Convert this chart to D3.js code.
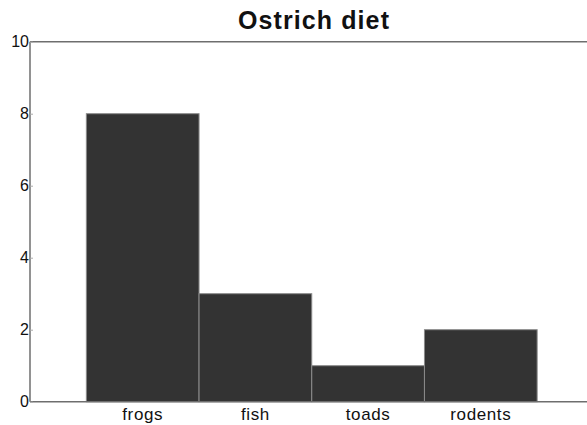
<!DOCTYPE html>
<meta charset="utf-8">
<title>Ostrich diet</title>

<style>
body{
	margin: 0;
	background: white;
	overflow: hidden;
}
svg{
	display: block;
}
text{
	font-family: "Liberation Sans", Arial, sans-serif;
}
</style>

<body>

<script src="https://d3js.org/d3.v7.min.js"></script>

<script>

var categories = ['frogs', 'fish', 'toads', 'rodents'];
var counts = [8, 3, 1, 2];
var yticks = [0, 2, 4, 6, 8, 10];
var title = 'Ostrich diet';

var width = 587;
var height = 425;

var plotLeft = 30, plotTop = 41.7, plotBottom = 401.7;

var svg = d3.select('body')
	.append('svg')
	.attr('width', width)
	.attr('height', height);

// bars sit on [0,4] in bar units, the axes go from -0.5 to 4.5
var xunits = d3.scaleLinear()
	.domain([-0.5, 4.5])
	.range([plotLeft, plotLeft + 5 * 112.7]);

var x = d3.scaleBand()
	.domain(categories)
	.range([xunits(0), xunits(categories.length)])
	.padding(0);

var y = d3.scaleLinear()
	.domain([0, 10])
	.range([plotBottom, plotTop]);

svg.append('g')
	.selectAll('rect')
	.data(categories)
	.enter()
	.append('rect')
	.attr('x', function(d){ return x(d); })
	.attr('y', function(d, i){ return y(counts[i]); })
	.attr('width', x.bandwidth())
	.attr('height', function(d, i){ return y(0) - y(counts[i]); })
	.attr('fill', '#333333')
	.attr('stroke', '#8a8a8a')
	.attr('stroke-width', 1);

// frame: left, top, bottom
var frame = svg.append('g')
	.attr('stroke', '#6e6e6e')
	.attr('stroke-width', 1.5);

frame.append('line')
	.attr('x1', plotLeft).attr('x2', plotLeft)
	.attr('y1', y(10)).attr('y2', y(0));
frame.append('line')
	.attr('x1', plotLeft).attr('x2', xunits(4.5))
	.attr('y1', y(10)).attr('y2', y(10));
frame.append('line')
	.attr('x1', plotLeft).attr('x2', xunits(4.5))
	.attr('y1', y(0)).attr('y2', y(0));

var yaxis = svg.append('g')
	.attr('transform', 'translate(' + plotLeft + ',0)')
	.call(d3.axisRight(y).tickValues(yticks).tickSize(3).tickFormat(d3.format('d')));

yaxis.select('.domain').remove();
yaxis.selectAll('line').attr('stroke', '#aaaaaa');
yaxis.selectAll('text')
	.attr('x', -1)
	.attr('text-anchor', 'end')
	.attr('font-size', 16)
	.attr('fill', '#111');

svg.append('g')
	.selectAll('text')
	.data(categories)
	.enter()
	.append('text')
	.attr('x', function(d){ return x(d) + x.bandwidth() / 2; })
	.attr('y', 420)
	.attr('text-anchor', 'middle')
	.attr('font-size', 17)
	.attr('letter-spacing', 0.6)
	.attr('fill', '#111')
	.text(function(d){ return d; });

svg.append('text')
	.attr('x', 314)
	.attr('y', 29)
	.attr('text-anchor', 'middle')
	.attr('font-size', 25)
	.attr('letter-spacing', 1.1)
	.attr('font-weight', 'bold')
	.attr('fill', '#111')
	.text(title);

</script>
</body>
